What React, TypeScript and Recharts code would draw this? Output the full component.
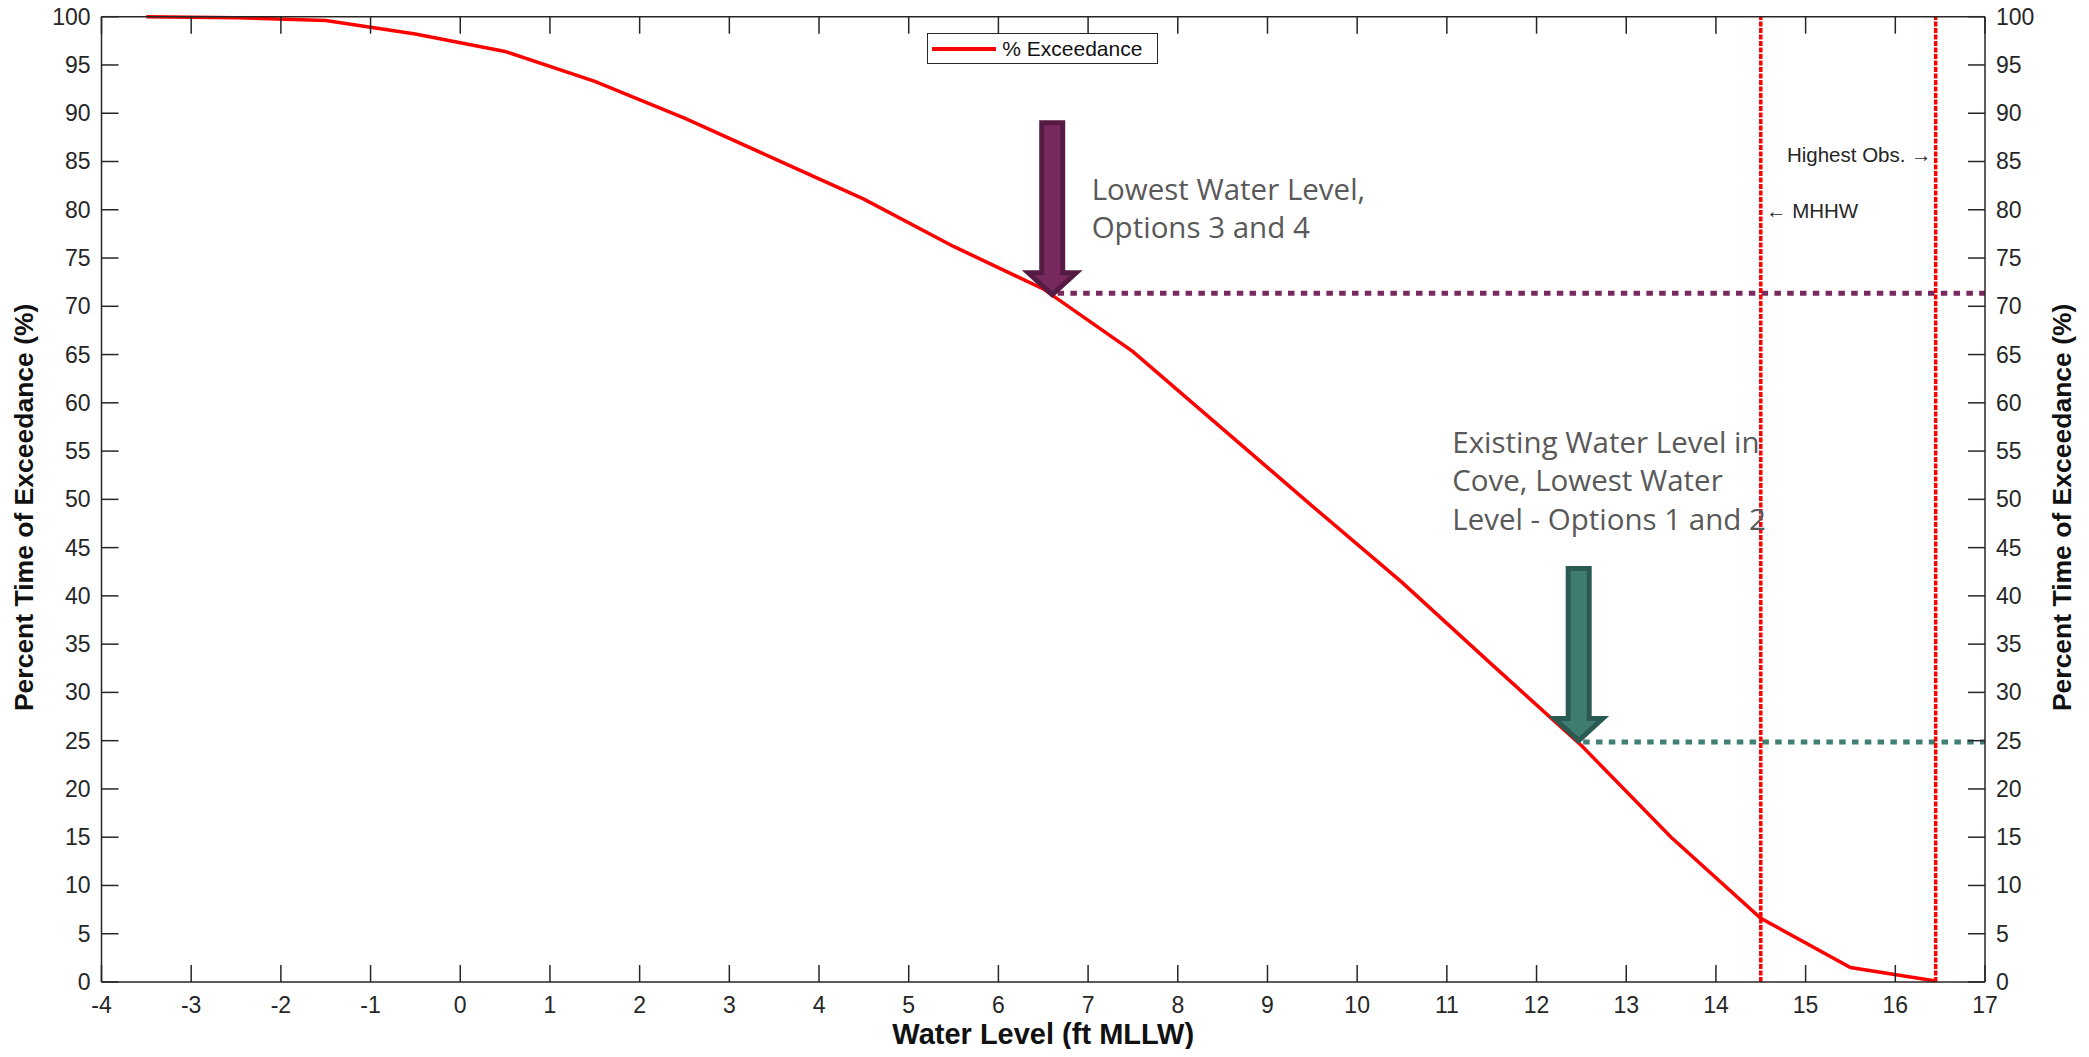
import React from 'react';
import { LineChart, Line, XAxis, YAxis, ReferenceLine, ReferenceDot, Legend, Label } from 'recharts';

// exceedance curve
const waterLevel = [-3.5, -2.5, -1.5, -0.5, 0.5, 1.5, 2.5, 3.5, 4.5, 5.5, 6.5, 7.5, 8.5, 9.5, 10.5, 11.5, 12.5, 13.5, 14.5, 15.5, 16.45];
const exceedance = [100, 99.9, 99.6, 98.2, 96.4, 93.3, 89.5, 85.3, 81.1, 76.2, 71.8, 65.3, 57.3, 49.3, 41.4, 32.9, 24.5, 15.0, 6.6, 1.5, 0.1];

const xTicks = [-4, -3, -2, -1, 0, 1, 2, 3, 4, 5, 6, 7, 8, 9, 10, 11, 12, 13, 14, 15, 16, 17];
const yTicks = [0, 5, 10, 15, 20, 25, 30, 35, 40, 45, 50, 55, 60, 65, 70, 75, 80, 85, 90, 95, 100];

// reference levels
const mhhw = 14.5;
const highestObs = 16.45;
const options34 = { x: 6.6, tip: 71.0, level: 71.35, lineStart: 6.66 };
const options12 = { x: 12.47, tip: 24.8, level: 24.85, lineStart: 12.52 };

const options34Text = ['Lowest Water Level,', 'Options 3 and 4'];
const options12Text = ['Existing Water Level in', 'Cove, Lowest Water', 'Level - Options 1 and 2'];
const options34TextPos = { x: 7.04, y: 81.0 };
const options12TextPos = { x: 11.06, y: 54.8 };
const mhhwLabelPos = { x: 14.558, y: 79.15 };
const highestLabelPos = { x: 16.405, y: 84.9 };

const data = waterLevel.map((x, i) => ({ x, pct: exceedance[i] }));

const AXIS = '#262626';
const TICK_LEN = 17;
const SANS = '"Liberation Sans", Arial, Helvetica, sans-serif';
const NOTE_FONT = '"Open Sans", "Noto Sans", sans-serif';

const tickText = { fontFamily: SANS, fontSize: 23, fill: AXIS };

function LeftTick(props: any) {
  const { x, y, payload } = props;
  return (
    <g>
      <line x1={x} y1={y} x2={x + TICK_LEN} y2={y} stroke={AXIS} strokeWidth={1.5} />
      <text x={x - 11} y={y} textAnchor="end" dominantBaseline="central" {...tickText}>
        {payload.value}
      </text>
    </g>
  );
}

function RightTick(props: any) {
  const { x, y, payload } = props;
  return (
    <g>
      <line x1={x} y1={y} x2={x - TICK_LEN} y2={y} stroke={AXIS} strokeWidth={1.5} />
      <text x={x + 11} y={y} textAnchor="start" dominantBaseline="central" {...tickText}>
        {payload.value}
      </text>
    </g>
  );
}

function BottomTick(props: any) {
  const { x, y, payload } = props;
  return (
    <g>
      <line x1={x} y1={y} x2={x} y2={y - TICK_LEN} stroke={AXIS} strokeWidth={1.5} />
      <text x={x} y={y + 31} textAnchor="middle" {...tickText}>
        {payload.value}
      </text>
    </g>
  );
}

function TopTick(props: any) {
  const { x, y } = props;
  return <line x1={x} y1={y} x2={x} y2={y + TICK_LEN} stroke={AXIS} strokeWidth={1.5} />;
}

const makeArrow = (fill: string, stroke: string) => (props: any) => {
  const { cx, cy } = props;
  const len = 172;
  const shaft = 10.5;
  const head = 24;
  const headH = 22;
  const t = cy - 2;
  const pts = [
    [cx, t],
    [cx - head, t - headH],
    [cx - shaft, t - headH],
    [cx - shaft, t - len],
    [cx + shaft, t - len],
    [cx + shaft, t - headH],
    [cx + head, t - headH],
  ]
    .map((p) => p.join(','))
    .join(' ');
  return <polygon points={pts} fill={fill} stroke={stroke} strokeWidth={5} strokeLinejoin="miter" />;
};

const makeNote = (lines: string[]) => (props: any) => {
  const { cx, cy } = props;
  return (
    <text x={cx} y={cy} fontFamily={NOTE_FONT} fontSize={29.5} fill="#595959">
      {lines.map((l, i) => (
        <tspan key={i} x={cx} dy={i === 0 ? 0 : 38.3}>
          {l}
        </tspan>
      ))}
    </text>
  );
};

const makeSmallNote = (label: string, anchor: 'start' | 'end') => (props: any) => {
  const { cx, cy } = props;
  return (
    <text x={cx} y={cy} textAnchor={anchor} fontFamily={SANS} fontSize={20.5} fill="#262626">
      {label}
    </text>
  );
};

function LegendBox() {
  return (
    <div
      style={{
        width: 229,
        height: 29,
        border: `1.5px solid ${AXIS}`,
        background: '#fff',
        display: 'flex',
        alignItems: 'center',
        fontFamily: SANS,
        fontSize: 21,
        color: '#111',
      }}
    >
      <div style={{ width: 64, height: 4, background: '#ff0000', marginLeft: 4, marginRight: 6 }} />
      <span>% Exceedance</span>
    </div>
  );
}

const renderXTitle = (props: any) => {
  const vb = props.viewBox;
  return (
    <text x={vb.x + vb.width / 2} y={vb.y + 62} textAnchor="middle" fontFamily={SANS} fontWeight="bold" fontSize={29} fill="#111">
      Water Level (ft MLLW)
    </text>
  );
};

const renderLeftTitle = (props: any) => {
  const vb = props.viewBox;
  const cx = 16;
  const cy = vb.y + vb.height / 2 + 8;
  return (
    <text x={cx} y={cy} transform={`rotate(-90, ${cx}, ${cy})`} textAnchor="middle" dominantBaseline="central" fontFamily={SANS} fontWeight="bold" fontSize={26.5} fill="#111">
      Percent Time of Exceedance (%)
    </text>
  );
};

const renderRightTitle = (props: any) => {
  const vb = props.viewBox;
  const cx = 2054;
  const cy = vb.y + vb.height / 2 + 8;
  return (
    <text x={cx} y={cy} transform={`rotate(-90, ${cx}, ${cy})`} textAnchor="middle" dominantBaseline="central" fontFamily={SANS} fontWeight="bold" fontSize={26.5} fill="#111">
      Percent Time of Exceedance (%)
    </text>
  );
};

export default function App() {
  return (
    <div style={{ width: 2073, height: 1041 }}>
      <LineChart width={2073} height={1041} data={data} margin={{ top: 7.7, right: 6, bottom: 7, left: 0.5 }}>
        <XAxis
          type="number"
          dataKey="x"
          domain={[-4, 17]}
          ticks={xTicks}
          interval={0}
          height={60}
          tickSize={0}
          tickMargin={0}
          tick={<BottomTick />}
          axisLine={{ stroke: AXIS, strokeWidth: 1.5 }}
          tickLine={false}
        >
          <Label content={renderXTitle} />
        </XAxis>
        <XAxis
          xAxisId="top"
          orientation="top"
          type="number"
          dataKey="x"
          domain={[-4, 17]}
          ticks={xTicks}
          interval={0}
          height={1}
          tickSize={0}
          tickMargin={0}
          tick={<TopTick />}
          axisLine={{ stroke: AXIS, strokeWidth: 1.5 }}
          tickLine={false}
        />
        <YAxis
          type="number"
          domain={[0, 100]}
          ticks={yTicks}
          interval={0}
          width={93}
          tickSize={0}
          tickMargin={0}
          tick={<LeftTick />}
          axisLine={{ stroke: AXIS, strokeWidth: 1.5 }}
          tickLine={false}
        >
          <Label content={renderLeftTitle} />
        </YAxis>
        <YAxis
          yAxisId="right"
          orientation="right"
          type="number"
          domain={[0, 100]}
          ticks={yTicks}
          interval={0}
          width={90}
          tickSize={0}
          tickMargin={0}
          tick={<RightTick />}
          axisLine={{ stroke: AXIS, strokeWidth: 1.5 }}
          tickLine={false}
        >
          <Label content={renderRightTitle} />
        </YAxis>

        <Legend
          layout="vertical"
          align="center"
          verticalAlign="middle"
          content={<LegendBox />}
          wrapperStyle={{ position: 'absolute', left: 919.3, top: 25.3, width: 'auto', height: 'auto' }}
        />

        <ReferenceLine
          segment={[{ x: options34.lineStart, y: options34.level }, { x: 17, y: options34.level }]}
          stroke="#772a5e"
          strokeWidth={5}
          strokeDasharray="6.5 6.3"
        />
        <ReferenceLine
          segment={[{ x: options12.lineStart, y: options12.level }, { x: 17, y: options12.level }]}
          stroke="#3f7f74"
          strokeWidth={5}
          strokeDasharray="6.5 6.3"
        />
        <ReferenceLine x={mhhw} stroke="#ff0000" strokeWidth={3.5} strokeDasharray="5 1.5" />
        <ReferenceLine x={highestObs} stroke="#ff0000" strokeWidth={3.5} strokeDasharray="5 1.5" />

        {/* same curve, invisible, so the top and right axes get their ticks */}
        <Line
          xAxisId="top"
          yAxisId="right"
          type="linear"
          dataKey="pct"
          stroke="none"
          dot={false}
          activeDot={false}
          legendType="none"
          isAnimationActive={false}
        />
        <Line
          type="linear"
          dataKey="pct"
          stroke="#ff0000"
          strokeWidth={3.5}
          dot={false}
          activeDot={false}
          isAnimationActive={false}
          name="% Exceedance"
        />

        <ReferenceDot x={options34.x} y={options34.tip} r={1} shape={makeArrow('#782a5f', '#561b45')} />
        <ReferenceDot x={options12.x} y={options12.tip} r={1} shape={makeArrow('#3f7d72', '#2b5a52')} />
        <ReferenceDot x={options34TextPos.x} y={options34TextPos.y} r={1} shape={makeNote(options34Text)} />
        <ReferenceDot x={options12TextPos.x} y={options12TextPos.y} r={1} shape={makeNote(options12Text)} />
        <ReferenceDot x={mhhwLabelPos.x} y={mhhwLabelPos.y} r={1} shape={makeSmallNote('\u2190  MHHW', 'start')} />
        <ReferenceDot x={highestLabelPos.x} y={highestLabelPos.y} r={1} shape={makeSmallNote('Highest Obs. \u2192', 'end')} />
      </LineChart>
    </div>
  );
}
